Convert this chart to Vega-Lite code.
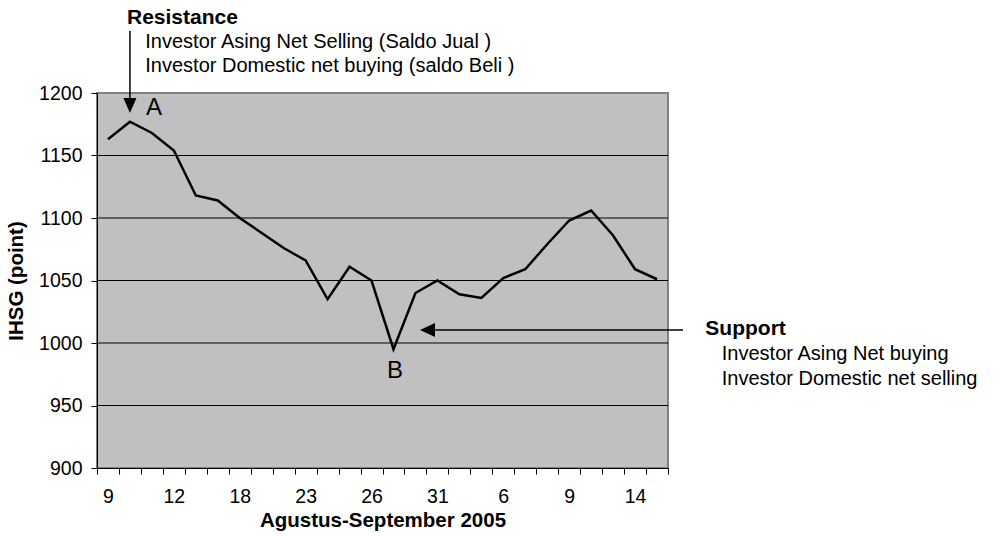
{
  "$schema": "https://vega.github.io/schema/vega-lite/v6.json",
  "width": 571,
  "height": 375,
  "autosize": "none",
  "padding": {"left": 97, "top": 93, "right": 338, "bottom": 68},
  "background": "white",
  "config": {
    "font": "Liberation Sans",
    "view": {"fill": "#c0c0c0", "stroke": "#808080", "strokeWidth": 2},
    "axis": {
      "domainColor": "black",
      "domainWidth": 1,
      "tickColor": "black",
      "tickWidth": 1,
      "tickSize": 6,
      "labelColor": "black",
      "titleColor": "black",
      "labelFont": "Liberation Sans",
      "titleFont": "Liberation Sans",
      "labelFontSize": 19.5,
      "titleFontSize": 20.5,
      "titleFontWeight": "bold",
      "grid": false
    }
  },
  "resolve": {"scale": {"x": "independent"}},
  "layer": [
    {
      "data": {"values": [{"v": 950}, {"v": 1000}, {"v": 1050}, {"v": 1100}, {"v": 1150}]},
      "mark": {"type": "rule", "color": "black", "strokeWidth": 1},
      "encoding": {
        "y": {"field": "v", "type": "quantitative", "scale": {"domain": [900, 1200], "nice": false, "zero": false}}
      }
    },
    {
      "data": {
        "values": [
          {"tanggal": "2005-08-09", "ihsg": 1163},
          {"tanggal": "2005-08-10", "ihsg": 1177},
          {"tanggal": "2005-08-11", "ihsg": 1168},
          {"tanggal": "2005-08-12", "ihsg": 1154},
          {"tanggal": "2005-08-15", "ihsg": 1118},
          {"tanggal": "2005-08-16", "ihsg": 1114},
          {"tanggal": "2005-08-18", "ihsg": 1100},
          {"tanggal": "2005-08-19", "ihsg": 1088},
          {"tanggal": "2005-08-22", "ihsg": 1076},
          {"tanggal": "2005-08-23", "ihsg": 1066},
          {"tanggal": "2005-08-24", "ihsg": 1035},
          {"tanggal": "2005-08-25", "ihsg": 1061},
          {"tanggal": "2005-08-26", "ihsg": 1050},
          {"tanggal": "2005-08-29", "ihsg": 995},
          {"tanggal": "2005-08-30", "ihsg": 1040},
          {"tanggal": "2005-08-31", "ihsg": 1050},
          {"tanggal": "2005-09-01", "ihsg": 1039},
          {"tanggal": "2005-09-02", "ihsg": 1036},
          {"tanggal": "2005-09-06", "ihsg": 1052},
          {"tanggal": "2005-09-07", "ihsg": 1059},
          {"tanggal": "2005-09-08", "ihsg": 1079},
          {"tanggal": "2005-09-09", "ihsg": 1098},
          {"tanggal": "2005-09-12", "ihsg": 1106},
          {"tanggal": "2005-09-13", "ihsg": 1086},
          {"tanggal": "2005-09-14", "ihsg": 1059},
          {"tanggal": "2005-09-15", "ihsg": 1051}
        ]
      },
      "mark": {"type": "line", "color": "black", "strokeWidth": 2.5},
      "encoding": {
        "x": {
          "field": "tanggal",
          "type": "ordinal",
          "bandPosition": 0.5,
          "scale": {"type": "band", "paddingInner": 0, "paddingOuter": 0},
          "axis": {
            "title": "Agustus-September 2005",
            "tickBand": "extent",
            "labelAngle": 0,
            "labelOverlap": false,
            "labelPadding": 13,
            "titlePadding": 5,
            "labelExpr": "indexof(['2005-08-09','2005-08-12','2005-08-18','2005-08-23','2005-08-26','2005-08-31','2005-09-06','2005-09-09','2005-09-14'], datum.value) >= 0 ? '' + toNumber(substring(datum.value, 8, 10)) : ''"
          }
        },
        "y": {
          "field": "ihsg",
          "type": "quantitative",
          "scale": {"domain": [900, 1200], "nice": false, "zero": false},
          "axis": {
            "title": "IHSG (point)",
            "format": "d",
            "values": [900, 950, 1000, 1050, 1100, 1150, 1200],
            "labelPadding": 9,
            "titlePadding": 12
          }
        }
      }
    },
    {
      "data": {"values": [{"u": 1.5, "v": 1249.6, "v2": 1192}]},
      "mark": {"type": "rule", "color": "black", "strokeWidth": 1.5},
      "encoding": {
        "x": {"field": "u", "type": "quantitative", "scale": {"domain": [0, 26], "nice": false, "zero": false}, "axis": null},
        "y": {"field": "v", "type": "quantitative"},
        "y2": {"field": "v2"}
      }
    },
    {
      "data": {"values": [{"u": 15.1, "u2": 26.68, "v": 1010.4}]},
      "mark": {"type": "rule", "color": "black", "strokeWidth": 1.5},
      "encoding": {
        "x": {"field": "u", "type": "quantitative", "scale": {"domain": [0, 26], "nice": false, "zero": false}, "axis": null},
        "x2": {"field": "u2"},
        "y": {"field": "v", "type": "quantitative"}
      }
    },
    {
      "data": {"values": [{"u": 1.5, "v": 1190}]},
      "mark": {"type": "point", "filled": true, "color": "black", "opacity": 1, "strokeWidth": 0, "size": 225, "shape": "M-0.87,-1L0.87,-1L0,1Z"},
      "encoding": {
        "x": {"field": "u", "type": "quantitative", "scale": {"domain": [0, 26], "nice": false, "zero": false}, "axis": null},
        "y": {"field": "v", "type": "quantitative"}
      }
    },
    {
      "data": {"values": [{"u": 15.05, "v": 1010.4}]},
      "mark": {"type": "point", "filled": true, "color": "black", "opacity": 1, "strokeWidth": 0, "size": 225, "shape": "M-1,0L1,-0.93L1,0.93Z"},
      "encoding": {
        "x": {"field": "u", "type": "quantitative", "scale": {"domain": [0, 26], "nice": false, "zero": false}, "axis": null},
        "y": {"field": "v", "type": "quantitative"}
      }
    },
    {
      "data": {"values": [
        {"u": 1.366, "v": 1255.2, "teks": "Resistance"},
        {"u": 27.7, "v": 1006.4, "teks": "Support"}
      ]},
      "mark": {"type": "text", "align": "left", "baseline": "alphabetic", "fontSize": 21, "fontWeight": "bold", "color": "black"},
      "encoding": {
        "x": {"field": "u", "type": "quantitative", "scale": {"domain": [0, 26], "nice": false, "zero": false}, "axis": null},
        "y": {"field": "v", "type": "quantitative"},
        "text": {"field": "teks"}
      }
    },
    {
      "data": {"values": [
        {"u": 2.2, "v": 1236, "teks": "Investor Asing Net Selling (Saldo Jual )"},
        {"u": 2.2, "v": 1216.8, "teks": "Investor Domestic net buying (saldo Beli )"},
        {"u": 28.45, "v": 986.4, "teks": "Investor Asing Net buying"},
        {"u": 28.45, "v": 966.8, "teks": "Investor Domestic net selling"}
      ]},
      "mark": {"type": "text", "align": "left", "baseline": "alphabetic", "fontSize": 20, "color": "black"},
      "encoding": {
        "x": {"field": "u", "type": "quantitative", "scale": {"domain": [0, 26], "nice": false, "zero": false}, "axis": null},
        "y": {"field": "v", "type": "quantitative"},
        "text": {"field": "teks"}
      }
    },
    {
      "data": {"values": [
        {"u": 2.596, "v": 1182.4, "teks": "A"},
        {"u": 13.57, "v": 972, "teks": "B"}
      ]},
      "mark": {"type": "text", "align": "center", "baseline": "alphabetic", "fontSize": 24, "color": "black"},
      "encoding": {
        "x": {"field": "u", "type": "quantitative", "scale": {"domain": [0, 26], "nice": false, "zero": false}, "axis": null},
        "y": {"field": "v", "type": "quantitative"},
        "text": {"field": "teks"}
      }
    }
  ]
}
